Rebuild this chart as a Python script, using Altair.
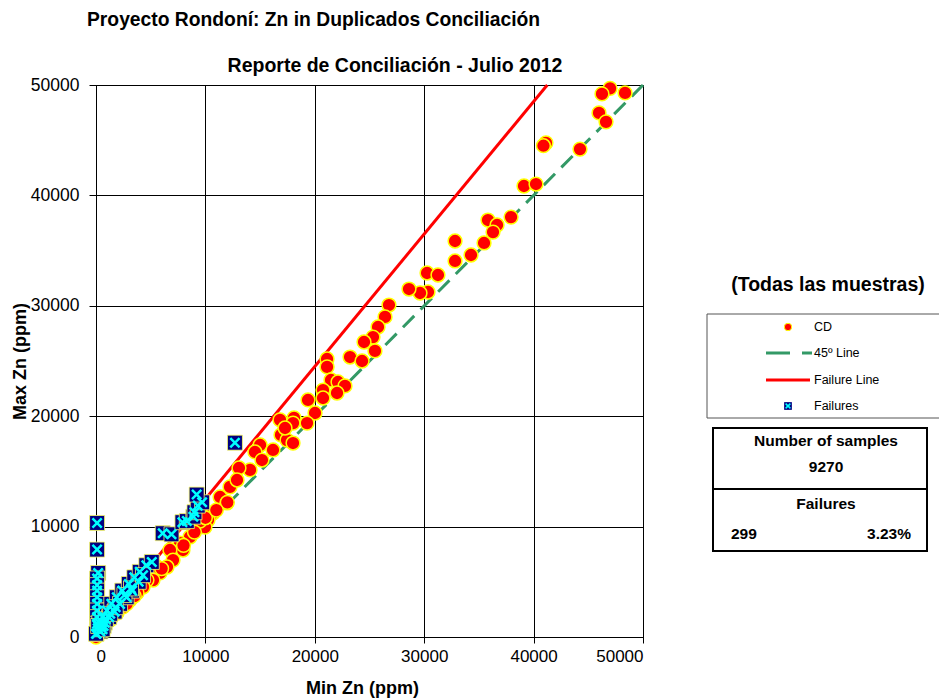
import altair as alt
import pandas as pd

# ---------------- data ----------------
cd_min = [46990, 46250, 48360, 45980, 46620, 41130, 40900, 44240, 39120, 40220,
          37940, 35830, 36660, 36290, 35470, 34280, 32820, 32820, 30260, 31260,
          30350, 29620, 28610, 26780, 26420, 25780, 25320, 24500, 25500, 23220,
          24320, 21120, 21120, 21480, 22120, 22760, 22030, 20750, 20750, 19380,
          20020, 19290, 18100, 16820, 16910, 15000, 14530, 15170, 14080, 13070,
          16180, 17460, 18010, 17280, 18010, 12250, 12890, 11340, 11970, 10700,
          10240, 9960, 8590, 7680, 7950, 6760, 7040, 6490, 5850, 5580,
          5210, 4660, 4300, 3750, 3110, 2470, 1920, 1280, 640, 90,
          0, 9500, 10000, 9000, 12000, 11000, 8000, 6000, 3500, 2800]
cd_max = [49700, 49190, 49280, 47470, 46660, 44760, 44500, 44200, 40850, 41030,
          38040, 37770, 37320, 36680, 35690, 34600, 35870, 34060, 32970, 32790,
          31250, 31160, 31520, 30070, 28990, 28080, 27170, 26720, 25910, 25360,
          25000, 25180, 24460, 23280, 23100, 22740, 22100, 22370, 21650, 21470,
          20290, 19380, 19840, 19660, 18300, 17390, 16760, 16030, 15130, 15310,
          16940, 17840, 19380, 18930, 17570, 13590, 14220, 12680, 12140, 11230,
          10600, 9960, 9060, 8510, 7880, 7880, 6970, 6340, 5800, 6340,
          5160, 5160, 4530, 3990, 3350, 2720, 2170, 1540, 910, 360,
          0, 10500, 10800, 9500, 12200, 11500, 8300, 6200, 3700, 3000]

fail_min = [100, 100, 200, 100, 100, 100, 100, 100, 100, 100,
            100, 300, 600, 1000, 1400, 1900, 2400, 3000, 3500, 4000,
            4600, 5100, 6100, 6900, 7900, 8300, 8900, 9000, 9300, 9700,
            9200, 12700, 500, 800, 1200, 1700, 2200, 2800, 3300, 3900,
            150, 50, 400, 700, 300, 900, 1300, 1800, 2600, 3200,
            4300, 0, 600, 200]
fail_max = [10330, 7920, 5800, 5300, 4700, 4200, 3600, 3000, 2400, 1800,
            1200, 1300, 1800, 2400, 3000, 3600, 4200, 4800, 5400, 5900,
            6500, 6800, 9400, 9300, 10400, 10500, 10900, 11300, 11900, 12200,
            12900, 17600, 900, 1300, 1800, 2300, 3000, 3600, 4200, 5000,
            800, 300, 500, 1000, 600, 1600, 2100, 2700, 3800, 4400,
            5600, 300, 700, 1000]

line45_x = [50000, 0]
line45_y = [50000, 0]
failline_x = [0, 41250]
failline_y = [500, 50000]

tick_values = [0, 10000, 20000, 30000, 40000, 50000]
n_samples = "9270"
n_failures = "299"
pct_failures = "3.23%"

# ---------------- chart ----------------
W, H = 547, 552
FONT = "Liberation Sans"

cd_df = pd.DataFrame({"min": cd_min, "max": cd_max})
fail_df = pd.DataFrame({"min": fail_min, "max": fail_max})
l45_df = pd.DataFrame({"min": line45_x, "max": line45_y, "o": [0, 1]})
lf_df = pd.DataFrame({"min": failline_x, "max": failline_y})
one = pd.DataFrame({"a": [0]})

xs = alt.Scale(domain=[0, 50000], nice=False)
ys = alt.Scale(domain=[0, 50000], nice=False)

xaxis = alt.Axis(values=tick_values, format="d", title="Min Zn (ppm)",
                 grid=True, gridColor="#000", gridOpacity=1, gridWidth=1,
                 domainColor="#000", tickColor="#000", tickSize=6,
                 labelFont=FONT, labelFontSize=17, labelColor="#000", labelPadding=5,
                 titleFont=FONT, titleFontSize=18, titleFontWeight="bold",
                 titleColor="#000", titlePadding=15, titleX=266)
yaxis = alt.Axis(values=tick_values, format="d", title="Max Zn (ppm)",
                 grid=True, gridColor="#000", gridOpacity=1, gridWidth=1,
                 domainColor="#000", tickColor="#000", tickSize=7,
                 labelFont=FONT, labelFontSize=17.5, labelColor="#000", labelPadding=10,
                 titleFont=FONT, titleFontSize=18, titleFontWeight="bold",
                 titleColor="#000", titlePadding=1)

base_x = alt.X("min:Q", scale=xs, axis=xaxis)
base_y = alt.Y("max:Q", scale=ys, axis=yaxis)

l45 = alt.Chart(l45_df).mark_line(color="#339966", strokeWidth=3, strokeDash=[16, 9]).encode(
    x=base_x, y=base_y, order=alt.Order("o:Q"))
lfail = alt.Chart(lf_df).mark_line(color="#ff0000", strokeWidth=3).encode(
    x=alt.X("min:Q", scale=xs), y=alt.Y("max:Q", scale=ys))
cd = alt.Chart(cd_df).mark_point(shape="circle", filled=True, fill="#ff0000", stroke="#ffff00",
                                 strokeWidth=1.5, size=190, opacity=1).encode(
    x=alt.X("min:Q", scale=xs), y=alt.Y("max:Q", scale=ys))
fsq = alt.Chart(fail_df).mark_point(shape="square", filled=True, fill="#000080", stroke="#ffff66",
                                    strokeWidth=0.8, size=225, opacity=1).encode(
    x=alt.X("min:Q", scale=xs), y=alt.Y("max:Q", scale=ys))
XPATH = "M-0.62,-0.62L0.62,0.62M0.62,-0.62L-0.62,0.62"
fx = alt.Chart(fail_df).mark_point(shape=XPATH, filled=False, stroke="#00ffff",
                                   strokeWidth=2.5, size=225, opacity=1).encode(
    x=alt.X("min:Q", scale=xs), y=alt.Y("max:Q", scale=ys))


def txt(s, x, y, size=12.5, bold=False, align="left"):
    return alt.Chart(one).mark_text(text=s, font=FONT, fontSize=size,
                                    fontWeight="bold" if bold else "normal",
                                    align=align, baseline="middle", color="#000").encode(
        x=alt.value(x), y=alt.value(y))


def rect(x, x2, y, y2, stroke, sw):
    return alt.Chart(one).mark_rect(fill="white", stroke=stroke, strokeWidth=sw).encode(
        x=alt.value(x), x2=alt.value(x2), y=alt.value(y), y2=alt.value(y2))


def hrule(x, x2, y, color, sw, dash=None):
    kw = dict(color=color, strokeWidth=sw)
    if dash:
        kw["strokeDash"] = dash
    return alt.Chart(one).mark_rule(**kw).encode(
        x=alt.value(x), x2=alt.value(x2), y=alt.value(y))


# offsets: plot origin at (96, 85)
OX, OY = 96, 85
layers = [l45, lfail, cd, fsq, fx]

layers.append(txt("Proyecto Rondoní: Zn in Duplicados Conciliación", 87 - OX, 20 - OY, 19.3, True))
layers.append(txt("Reporte de Conciliación - Julio 2012", 395 - OX, 66 - OY, 19.5, True, "center"))
layers.append(txt("(Todas las muestras)", 828 - OX, 285 - OY, 19.5, True, "center"))

# legend box
layers.append(rect(707 - OX, 960 - OX, 314 - OY, 418 - OY, "#555", 1))
layers.append(alt.Chart(one).mark_point(shape="circle", filled=True, fill="#ff0000", stroke="#ffff00",
                                         strokeWidth=1, size=55, opacity=1).encode(
    x=alt.value(788 - OX), y=alt.value(327 - OY)))
layers.append(txt("CD", 814 - OX, 327 - OY))
layers.append(hrule(766 - OX, 812 - OX, 353 - OY, "#339966", 3, [24, 12]))
layers.append(txt("45º Line", 814 - OX, 353 - OY))
layers.append(hrule(766 - OX, 810 - OX, 380 - OY, "#ff0000", 3))
layers.append(txt("Failure Line", 814 - OX, 380 - OY))
layers.append(alt.Chart(one).mark_point(shape="square", filled=True, fill="#000080",
                                         size=60, opacity=1).encode(
    x=alt.value(788 - OX), y=alt.value(406 - OY)))
layers.append(alt.Chart(one).mark_point(shape=XPATH, filled=False, stroke="#00ffff",
                                         strokeWidth=1.5, size=60, opacity=1).encode(
    x=alt.value(788 - OX), y=alt.value(406 - OY)))
layers.append(txt("Failures", 814 - OX, 406 - OY))

# stats box
layers.append(rect(713 - OX, 927 - OX, 428 - OY, 551 - OY, "#000", 2))
layers.append(hrule(713 - OX, 927 - OX, 489 - OY, "#000", 2))
layers.append(txt("Number of samples", 826 - OX, 441 - OY, 15.5, True, "center"))
layers.append(txt(n_samples, 826 - OX, 467 - OY, 15.5, True, "center"))
layers.append(txt("Failures", 826 - OX, 504 - OY, 15.5, True, "center"))
layers.append(txt(n_failures, 731 - OX, 534 - OY, 15.5, True, "left"))
layers.append(txt(pct_failures, 911 - OX, 534 - OY, 15.5, True, "right"))

chart = alt.layer(*layers).properties(
    width=W, height=H,
    autosize=alt.AutoSizeParams(type="none"),
    padding={"left": OX, "top": OY, "right": 939 - OX - W, "bottom": 699 - OY - H},
    background="white",
).configure_view(stroke="#000", strokeWidth=1)

chart.save("out.html", embed_options={"renderer": "svg", "actions": False})
